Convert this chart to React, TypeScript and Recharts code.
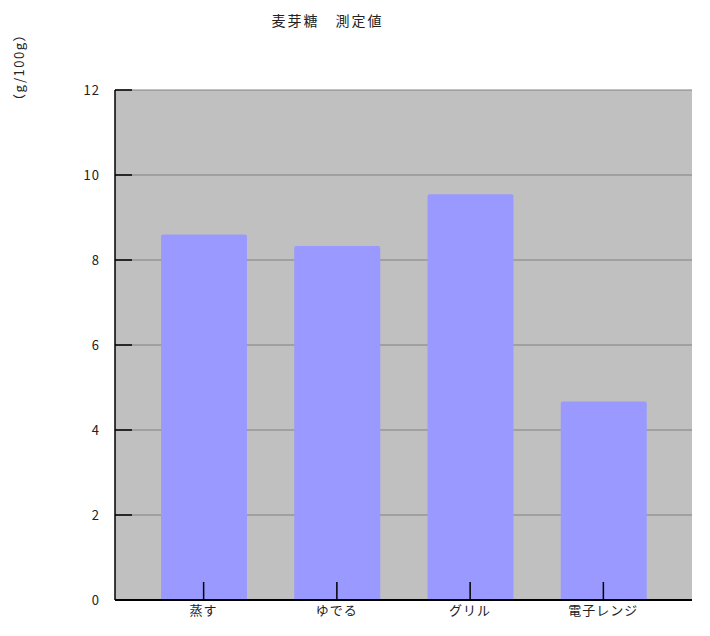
import { BarChart, Bar, XAxis, YAxis, CartesianGrid } from 'recharts';

const methods = ['蒸す', 'ゆでる', 'グリル', '電子レンジ'];
const maltose = [8.6, 8.33, 9.55, 4.67];
const yTicks = [0, 2, 4, 6, 8, 10, 12];

const data = methods.map((name, i) => ({ name, value: maltose[i] }));

const font = '"Noto Sans CJK JP", "Noto Sans", sans-serif';

export default function App() {
  return (
    <div style={{ position: 'absolute', left: 0, top: 0, width: 710, height: 636, background: '#fff', fontFamily: font }}>
      <div style={{ position: 'absolute', left: 0, width: 655, top: 10, textAlign: 'center', fontSize: 14, letterSpacing: 2, color: '#222' }}>
        麦芽糖　測定値
      </div>
      <div
        style={{
          position: 'absolute',
          left: 18,
          top: 67,
          transform: 'translate(-50%, -50%) rotate(-90deg)',
          fontSize: 13,
          letterSpacing: 1.5,
          color: '#222',
          whiteSpace: 'nowrap',
        }}
      >
        （g/100g）
      </div>
      <BarChart
        width={710}
        height={636}
        data={data}
        margin={{ top: 90, right: 18, bottom: 0, left: 0 }}
        barSize={86}
      >
        <CartesianGrid vertical={false} fill="#c0c0c0" stroke="#808080" strokeWidth={1} />
        <XAxis
          dataKey="name"
          height={36}
          padding={{ left: 22, right: 22 }}
          axisLine={{ stroke: '#000', strokeWidth: 2 }}
          tickLine={{ stroke: '#000', strokeWidth: 1.5 }}
          tickSize={-18}
          tickMargin={24}
          tick={{ fontSize: 13, fill: '#222', fontFamily: font, letterSpacing: 1 }}
        />
        <YAxis
          width={115}
          domain={[0, 12]}
          ticks={yTicks}
          interval={0}
          axisLine={{ stroke: '#000', strokeWidth: 1.5 }}
          tickLine={{ stroke: '#000', strokeWidth: 1.5 }}
          tickSize={-17}
          tickMargin={32}
          tick={{ fontSize: 13, fill: '#222', fontFamily: font, letterSpacing: 1 }}
        />
        <Bar dataKey="value" fill="#9999ff" radius={[2, 2, 0, 0]} isAnimationActive={false} />
      </BarChart>
    </div>
  );
}
